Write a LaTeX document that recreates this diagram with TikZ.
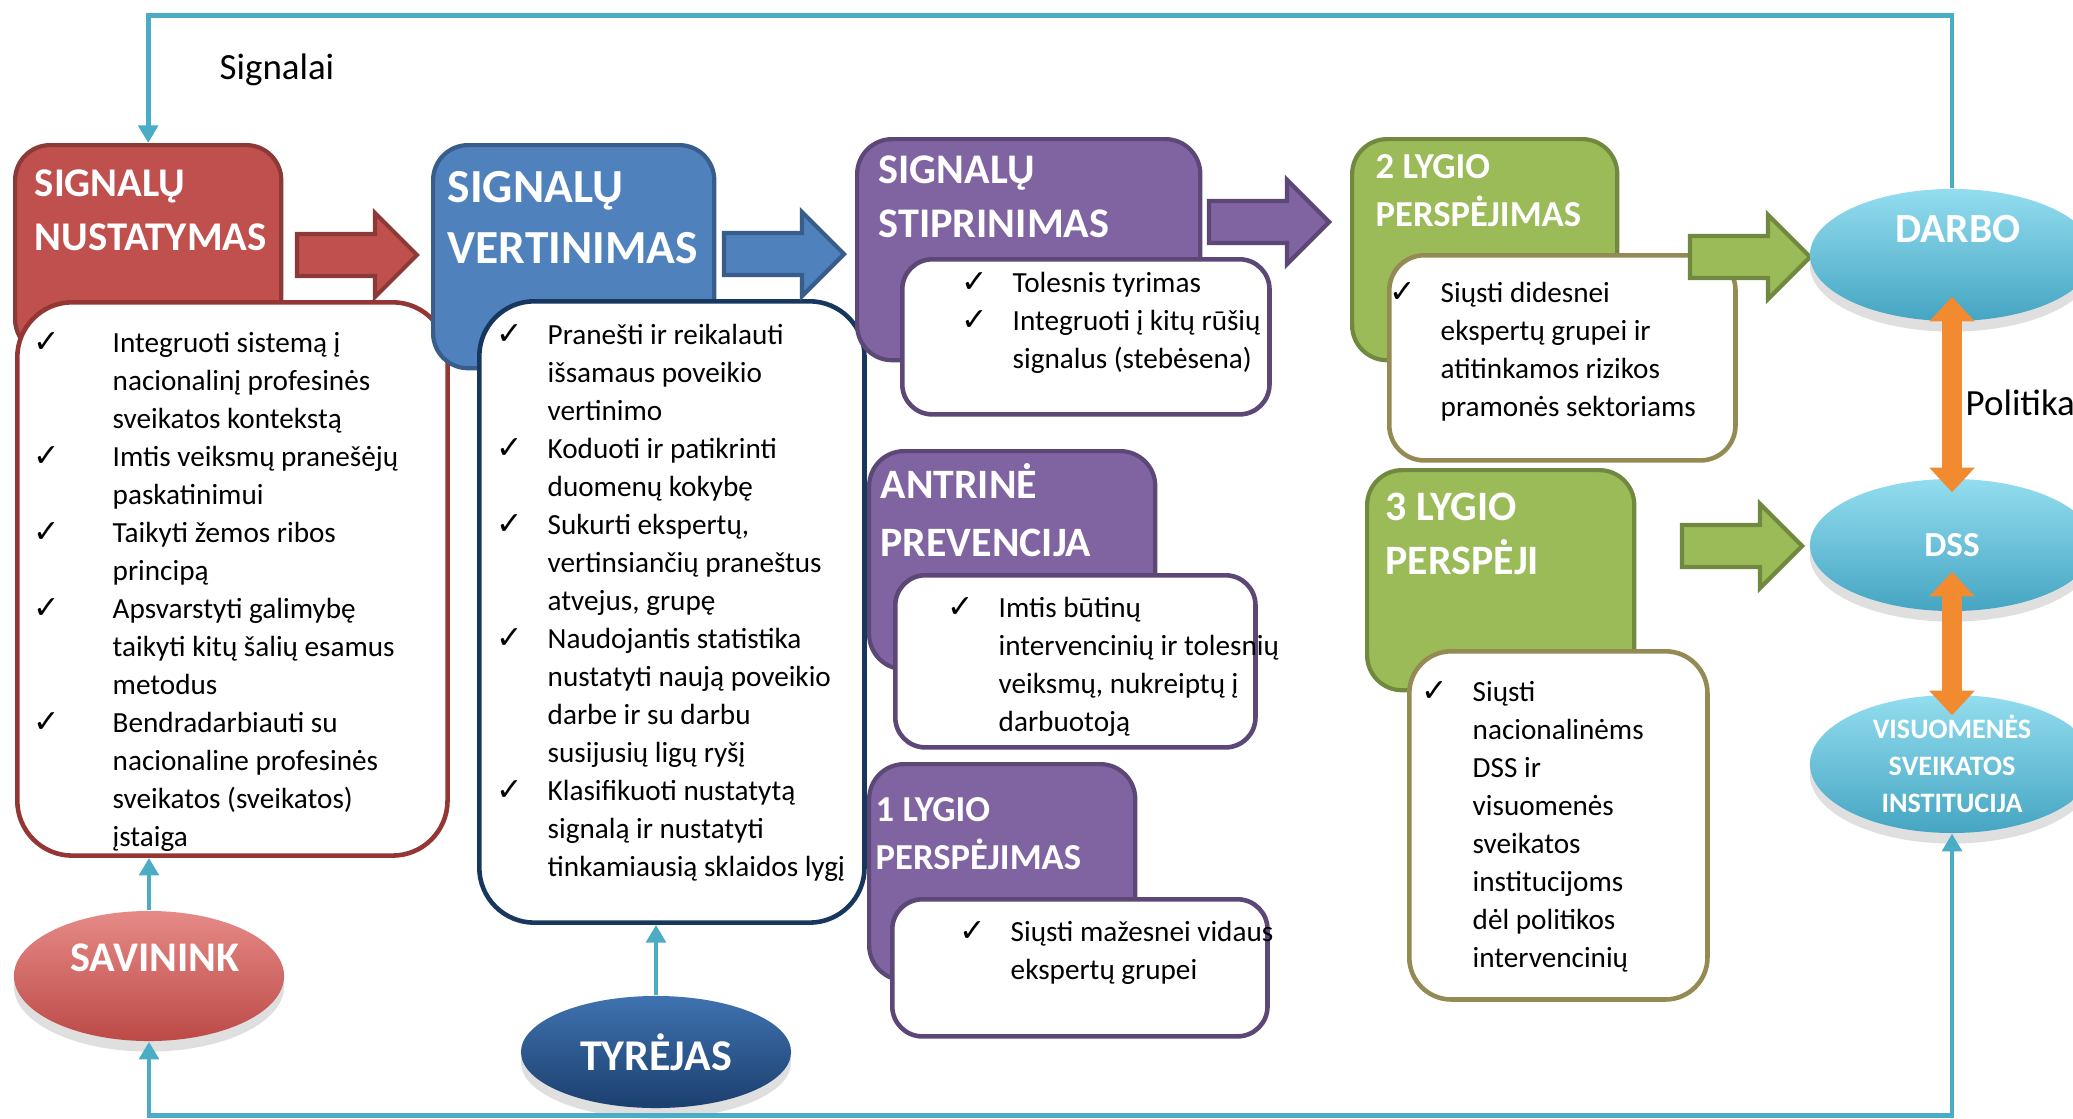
\documentclass[tikz,border=0pt]{standalone}
\usepackage{fontspec}
\setmainfont{Carlito}
\newfontfamily\chkfont{DejaVu Sans}
\usetikzlibrary{shapes.geometric,arrows.meta,shadows}

\definecolor{redfill}{HTML}{C0504D}
\definecolor{redline}{HTML}{8C3A38}
\definecolor{redbox}{HTML}{943634}
\definecolor{bluefill}{HTML}{4F81BD}
\definecolor{blueline}{HTML}{385D8A}
\definecolor{navybox}{HTML}{17375E}
\definecolor{purplefill}{HTML}{8064A2}
\definecolor{purpleline}{HTML}{5C4776}
\definecolor{greenfill}{HTML}{9BBB59}
\definecolor{greenline}{HTML}{71893F}
\definecolor{olivebox}{HTML}{948A54}
\definecolor{linkblue}{HTML}{4BACC6}
\definecolor{orangearr}{HTML}{F28A30}
\definecolor{cyantop}{HTML}{93DDEF}
\definecolor{cyanbot}{HTML}{45A5C2}
\definecolor{savtop}{HTML}{E68A87}
\definecolor{savbot}{HTML}{BC4A47}
\definecolor{tyrtop}{HTML}{3F72B0}
\definecolor{tyrbot}{HTML}{1B3F6E}

\newcommand{\chk}[1][0.25cm]{\llap{{\chkfont\fontsize{9}{9}\selectfont ✓}\hspace{#1}}}

\begin{document}
\begin{tikzpicture}[x=0.01cm, y=-0.01cm, >={Triangle[length=5pt,width=5.5pt]},
    hdr/.style={draw, line width=1.2pt, rounded corners=0.35cm, anchor=north west, inner sep=0},
    hdrtext/.style 2 args={anchor=north west, inner sep=0, align=left, text=white, font=\bfseries\fontsize{#1}{#2}\selectfont},
    listbox/.style={draw, fill=white, line width=1.3pt, anchor=north west, inner sep=0},
    listtext/.style={anchor=north west, inner sep=0, align=left, font=\fontsize{8.3}{10.8}\selectfont},
    link/.style={draw=linkblue, line width=1.4pt},
    twoway/.style={draw=orangearr, line width=5.7pt, {Triangle[length=7pt,width=12.5pt]}-{Triangle[length=7pt,width=12.5pt]}},
    blob/.style={ellipse, inner sep=0, text=white, align=center, drop shadow={shadow xshift=0pt, shadow yshift=-3pt, opacity=0.25}},
    cyanblob/.style={blob, top color=cyantop, bottom color=cyanbot, minimum width=2.84cm, minimum height=1.32cm},
    blobtext/.style={text=white, align=center, inner sep=0},
    blockarrow/.pic={\path[pic actions] (0,-21) -- (78,-21) -- (78,-42) -- (120,0) -- (78,42) -- (78,21) -- (0,21) -- cycle;}]

    \useasboundingbox (0,0) rectangle (2073,1118);
    \clip (0,0) rectangle (2073,1118);
    \fill[white] (0,0) rectangle (2073,1118);

    \node[hdr, draw=redline, fill=redfill, minimum width=2.66cm, minimum height=2.09cm] (nust) at (13,143) {};
    \node[hdrtext={11.6}{15.6}] (nustlbl) at (34,157) {\strut SIGNALŲ\\NUSTATYMAS};
    \node[listbox, draw=redbox, rounded corners=0.55cm, minimum width=4.30cm, minimum height=5.53cm] (nustlist) at (15,300) {};
    \node[listtext] (nusttxt) at (112,325) {\strut\chk[0.53cm]Integruoti sistemą į\\
        nacionalinį profesinės\\
        sveikatos kontekstą\\
        \chk[0.53cm]Imtis veiksmų pranešėjų\\
        paskatinimui\\
        \chk[0.53cm]Taikyti žemos ribos\\
        principą\\
        \chk[0.53cm]Apsvarstyti galimybę\\
        taikyti kitų šalių esamus\\
        metodus\\
        \chk[0.53cm]Bendradarbiauti su\\
        nacionaline profesinės\\
        sveikatos (sveikatos)\\
        įstaiga};

    \node[hdr, draw=blueline, fill=bluefill, minimum width=2.81cm, minimum height=2.23cm] (vert) at (431,143) {};
    \node[hdrtext={13.5}{17.4}] (vertlbl) at (447,159) {\strut SIGNALŲ\\VERTINIMAS};
    \node[listbox, draw=navybox, rounded corners=0.55cm, minimum width=3.85cm, minimum height=6.21cm] (vertlist) at (477,299) {};
    \node[listtext] (verttxt) at (547,317) {\strut\chk Pranešti ir reikalauti\\
        išsamaus poveikio\\
        vertinimo\\
        \chk Koduoti ir patikrinti\\
        duomenų kokybę\\
        \chk Sukurti ekspertų,\\
        vertinsiančių praneštus\\
        atvejus, grupę\\
        \chk Naudojantis statistika\\
        nustatyti naują poveikio\\
        darbe ir su darbu\\
        susijusių ligų ryšį\\
        \chk Klasifikuoti nustatytą\\
        signalą ir nustatyti\\
        tinkamiausią sklaidos lygį};

    \node[hdr, draw=purpleline, fill=purplefill, minimum width=3.43cm, minimum height=2.21cm] (stip) at (855,137) {};
    \node[hdrtext={12}{15.6}] (stiplbl) at (878,144) {\strut SIGNALŲ\\STIPRINIMAS};
    \node[listbox, draw=purpleline, rounded corners=0.3cm, minimum width=3.67cm, minimum height=1.55cm] (stiplist) at (900,257) {};
    \node[listtext] (stiptxt) at (1012,265) {\strut\chk Tolesnis tyrimas\\
        \chk Integruoti į kitų rūšių\\
        signalus (stebėsena)};

    \node[hdr, draw=purpleline, fill=purplefill, minimum width=2.86cm, minimum height=2.18cm] (antr) at (867,449) {};
    \node[hdrtext={11.9}{16.5}] (antrlbl) at (880,457) {\strut ANTRINĖ\\PREVENCIJA};
    \node[listbox, draw=purpleline, rounded corners=0.3cm, minimum width=3.60cm, minimum height=1.72cm] (antrlist) at (893,573) {};
    \node[listtext] (antrtxt) at (998,590) {\strut\chk Imtis būtinų\\
        intervencinių ir tolesnių\\
        veiksmų, nukreiptų į\\
        darbuotoją};

    \node[hdr, draw=purpleline, fill=purplefill, minimum width=2.66cm, minimum height=2.16cm] (lyg1) at (867,762) {};
    \node[hdrtext={10.4}{13.7}] (lyg1lbl) at (875,787) {\strut 1 LYGIO\\PERSPĖJIMAS};
    \node[listbox, draw=purpleline, rounded corners=0.3cm, minimum width=3.75cm, minimum height=1.37cm] (lyg1list) at (890,897) {};
    \node[listtext] (lyg1txt) at (1010,914) {\strut\chk Siųsti mažesnei vidaus\\
        ekspertų grupei};

    \node[hdr, draw=greenline, fill=greenfill, minimum width=2.65cm, minimum height=2.21cm] (lyg2) at (1350,137) {};
    \node[hdrtext={10.4}{13.7}] (lyg2lbl) at (1375,144) {\strut 2 LYGIO\\PERSPĖJIMAS};
    \node[listbox, draw=olivebox, rounded corners=0.35cm, minimum width=3.46cm, minimum height=2.05cm] (lyg2list) at (1387,253) {};
    \node[listtext] (lyg2txt) at (1440,275) {\strut\chk Siųsti didesnei\\
        ekspertų grupei ir\\
        atitinkamos rizikos\\
        pramonės sektoriams};

    \node[hdr, draw=greenline, fill=greenfill, minimum width=2.67cm, minimum height=2.20cm] (lyg3) at (1365,468) {};
    \node[hdrtext={11.9}{15.6}] (lyg3lbl) at (1385,481) {\strut 3 LYGIO\\PERSPĖJI};
    \node[listbox, draw=olivebox, rounded corners=0.42cm, minimum width=2.98cm, minimum height=3.48cm] (lyg3list) at (1407,649) {};
    \node[listtext] (lyg3txt) at (1472,674) {\strut\chk Siųsti\\
        nacionalinėms\\
        DSS ir\\
        visuomenės\\
        sveikatos\\
        institucijoms\\
        dėl politikos\\
        intervencinių};

    \pic[draw=redline, fill=redfill, line width=1.2pt] at (297,255) {blockarrow};
    \pic[draw=blueline, fill=bluefill, line width=1.2pt] at (724,254) {blockarrow};
    \pic[draw=purpleline, fill=purplefill, line width=1.2pt] at (1209,222) {blockarrow};
    \pic[draw=greenline, fill=greenfill, line width=1.2pt] at (1690,257) {blockarrow};
    \pic[draw=greenline, fill=greenfill, line width=1.2pt] at (1682,546) {blockarrow};

    \node[font=\fontsize{10.5}{12}\selectfont] (signalai) at (277,70) {Signalai};
    \node[anchor=west, inner sep=0, font=\fontsize{10.5}{12}\selectfont] (politika) at (1965,403) {Politika};

    \node[cyanblob] (darbo) at (1952,255) {};
    \node[blobtext, font=\bfseries\fontsize{11.8}{14}\selectfont] (darbolbl) at (1958,229) {DARBO};
    \node[cyanblob, font=\bfseries\fontsize{10}{12}\selectfont] (dss) at (1952,545) {DSS};
    \node[cyanblob, font=\bfseries\fontsize{8}{10.5}\selectfont] (vis) at (1952,764) {VISUOMENĖS\\SVEIKATOS\\INSTITUCIJA};
    \node[blob, top color=savtop, bottom color=savbot, minimum width=2.70cm, minimum height=1.30cm] (owner) at (149,976) {};
    \node[blobtext, font=\bfseries\fontsize{12}{14}\selectfont] (ownerlbl) at (155,958) {SAVININK};
    \node[blob, top color=tyrtop, bottom color=tyrbot, minimum width=2.70cm, minimum height=1.12cm, font=\bfseries\fontsize{12.5}{14}\selectfont] (tyr) at (656,1052) {TYRĖJAS};

    \draw[link, ->] (darbo.north) -- ++(0,-173) -| (nust.north);
    \draw[link, <->] (owner.south) -- ++(0,74) -| (vis.south);
    \draw[link, ->] (owner.north) -- (owner.north |- nustlist.south);
    \draw[link, ->] (tyr.north) -- (tyr.north |- vertlist.south);

    \draw[twoway] ([yshift=0.25cm]darbo.south) -- ([yshift=-0.14cm]dss.north);
    \draw[twoway] ([yshift=0.40cm]dss.south) -- ([yshift=-0.21cm]vis.north);
\end{tikzpicture}
\end{document}
